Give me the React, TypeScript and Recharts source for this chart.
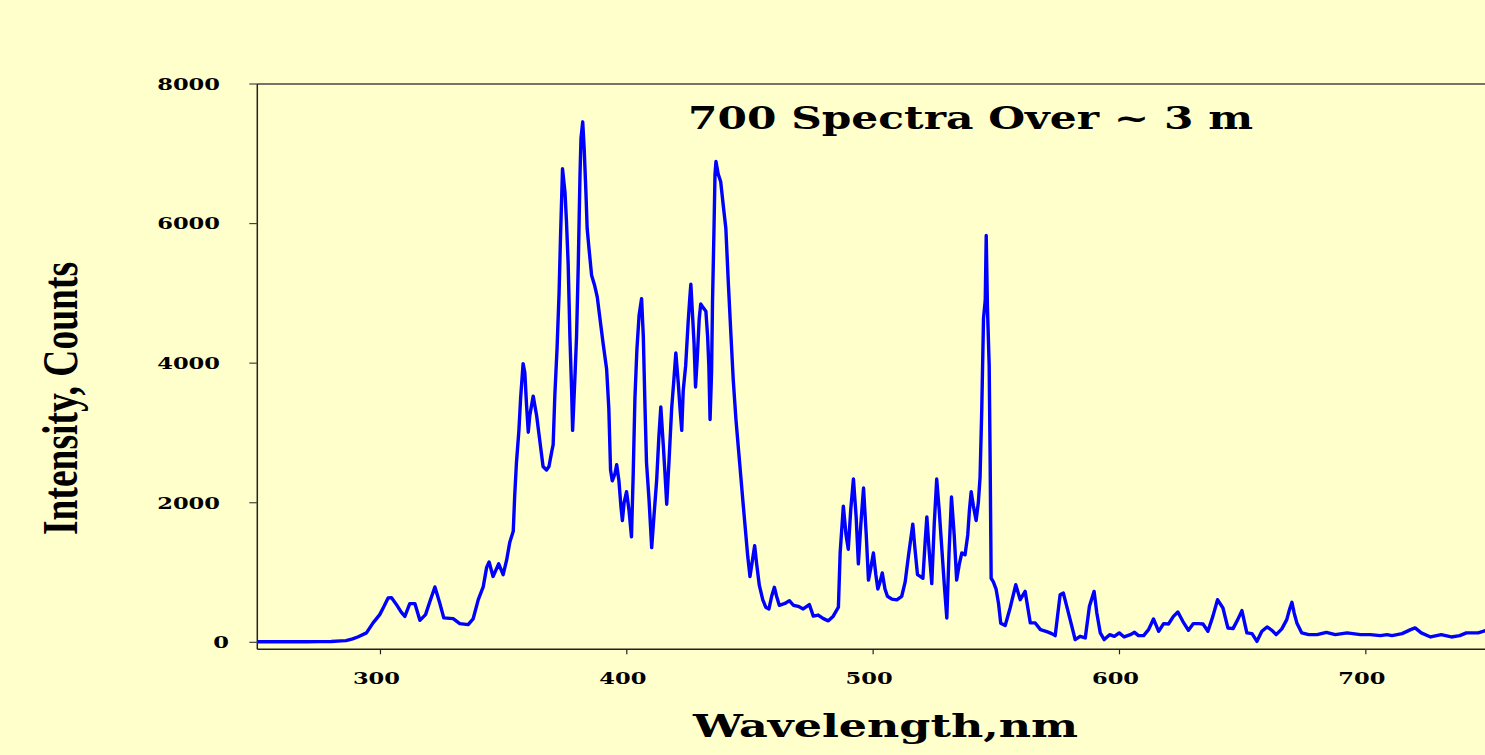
import React from "react";
import { LineChart, Line, XAxis, YAxis, ReferenceLine, Label } from "recharts";

const wavelengths = [
  250, 255, 260, 265, 270, 275, 280, 284, 286, 288.7, 291, 294.3, 297, 299.7, 301.5, 303.1, 304.5, 306.5, 308.5, 309.9,
  311.9, 314, 316, 318.3, 320.2, 322.1, 324, 325.7, 329.5, 332.2, 335.6, 337.6, 339.7, 341.7, 343.1, 344.1, 345.7, 348,
  349.8, 351.2, 352.5, 353.9, 354.5, 355.2, 356.2, 356.9, 357.9, 358.6, 359.3, 360, 360.6, 362, 363.4, 364.7, 366, 367.4,
  368.4, 369.5, 370.1, 370.8, 371.7, 372.5, 373.1, 373.9, 374.9, 375.5, 376.2, 376.9, 377.6, 378, 378.9, 379.6, 380.3,
  381, 381.4, 382.1, 382.7, 383.4, 383.9, 384.7, 385.7, 387, 388, 389.1, 390.4, 391.8, 392.7, 393.4, 394.1, 395.2, 395.9,
  396.8, 397.6, 398.2, 398.9, 399.9, 400.9, 401.9, 402.6, 403.3, 404.1, 405, 406, 406.7, 407.4, 408, 409, 410.1, 411,
  412.1, 413, 413.8, 414.8, 415.5, 416.2, 417.1, 418.2, 419.1, 419.9, 420.9, 421.6, 422.3, 422.9, 423.9, 424.9, 425.6,
  426, 426.6, 427.3, 427.9, 428.6, 429.4, 430, 431, 432.1, 432.8, 433.3, 433.8, 434.4, 434.8, 435.4, 435.8, 436.2, 437.1,
  438.1, 439.2, 440.2, 441.2, 442.3, 443.2, 444.3, 445.3, 446.3, 447.3, 448.2, 449.1, 450, 451, 451.9, 452.7, 453.8,
  455.2, 456.4, 457.7, 458.8, 459.9, 460.8, 461.9, 464.2, 466, 467.6, 469.6, 471.6, 474.1, 475.7, 477.7, 479.8, 481.8,
  483.8, 485.9, 486.6, 487.9, 489, 489.9, 490.9, 492, 493.1, 494, 495, 496.1, 497.2, 498.1, 499.1, 500.1, 501.1, 501.9,
  502.8, 503.7, 504.8, 505.8, 507.6, 509.6, 511.6, 513, 514.3, 516.1, 517, 518, 519.1, 520.2, 521.1, 521.8, 522.7, 523.8,
  524.8, 525.8, 526.8, 527.9, 528.9, 529.9, 530.8, 531.8, 532.9, 533.9, 535, 536, 537.3, 538.4, 539.1, 539.8, 540.7,
  541.8, 542.7, 543.4, 544.1, 544.8, 545.5, 545.9, 546.4, 547.1, 547.5, 547.9, 548.8, 549.9, 550.9, 551.8, 553.6, 555.6,
  557.9, 559.7, 561.7, 563.8, 565.8, 567.9, 570.5, 572.5, 573.9, 575.9, 577.2, 578.6, 580.3, 582, 584, 586.1, 587.8,
  589.7, 590.8, 592.2, 593.8, 596, 597.9, 599.9, 601.9, 604.4, 606.1, 607.7, 609.8, 611.8, 613.8, 615.9, 617.9, 619.9,
  621.9, 623.7, 625.7, 628, 630, 632.1, 633.9, 635.9, 637.9, 639.8, 642, 644, 646.1, 648, 649.7, 651.7, 653.8, 655.8,
  657.8, 659.9, 661.9, 663.6, 665.9, 667.9, 669, 670, 670.9, 672, 674, 676.8, 680.2, 684, 687.6, 692.4, 697.8, 701.8,
  705.9, 708.6, 710.6, 714.7, 718.2, 720, 722.5, 726.3, 730.6, 734.7, 738.1, 740.8, 745.6, 749, 750,
];

const intensities = [
  8, 10, 8, 10, 8, 10, 12, 20, 25, 50, 80, 135, 278, 397, 520, 636, 640, 540, 430, 372,
  554, 554, 315, 397, 600, 793, 570, 350, 340, 268, 253, 335, 611, 795, 1074, 1151, 944, 1125,
  969, 1177, 1435, 1591, 2108, 2573, 3037, 3504, 3994, 3865, 3400, 3011, 3246, 3528, 3246, 2883, 2520, 2469,
  2520, 2728, 2831, 3554, 4227, 5002, 5830, 6786, 6450, 6036, 5416, 4382, 3606, 3037, 3762, 4382, 5416,
  6708, 7225, 7458, 7070, 6450, 5933, 5623, 5261, 5105, 4950, 4640, 4279, 3916, 3348, 2469, 2314, 2417, 2546,
  2314, 1952, 1746, 2003, 2159, 1890, 1513, 2417, 3504, 4200, 4691, 4925, 4382, 3348, 2573, 2056, 1357, 1797,
  2314, 2934, 3374, 2831, 2417, 1978, 2573, 3348, 3762, 4148, 3710, 3348, 3037, 3606, 3968, 4588, 4950,
  5131, 4744, 4279, 3659, 4071, 4640, 4847, 4796, 4744, 4382, 3968, 3193, 3865, 4899, 5933, 6708, 6890, 6708,
  6604, 6244, 5933, 5157, 4382, 3762, 3193, 2779, 2366, 1952, 1591, 1229, 944, 1177, 1383, 1125, 815,
  609, 504, 478, 660, 789, 660, 531, 557, 597, 531, 516, 478, 541, 375, 391, 339, 308,
  375, 504, 1280, 1952, 1538, 1332, 1900, 2340, 1797, 1125, 1694, 2211, 1538, 892, 1074, 1280, 969, 763,
  866, 995, 763, 660, 619, 609, 660, 866, 1229, 1694, 1332, 969, 944, 918, 1435, 1797, 1332, 841,
  1694, 2340, 1900, 1332, 815, 349, 1280, 2082, 1538, 892, 1125, 1280, 1254, 1538, 1900, 2158, 1952,
  1746, 2003, 2366, 3348, 4640, 4899, 5830, 4796, 3968, 2573, 918, 866, 763, 557, 272, 240, 492,
  826, 611, 730, 278, 278, 182, 153, 125, 96, 683, 707, 516, 278, 39, 86, 63, 516,
  730, 421, 135, 39, 110, 86, 135, 77, 110, 143, 96, 96, 182, 335, 158, 268, 263,
  372, 435, 301, 172, 268, 268, 263, 158, 372, 611, 492, 206, 196, 325, 454, 135, 125, 14,
  158, 220, 172, 110, 192, 325, 468, 573, 421, 278, 135, 110, 110, 143, 110, 135, 110, 110,
  96, 110, 96, 125, 182, 206, 135, 77, 110, 77, 96, 135, 135, 172, 175,
];

const xTicks = [300, 400, 500, 600, 700];
const yTicks = [0, 2000, 4000, 6000, 8000];
const titleText = "700 Spectra Over ~ 3 m";
const xLabelText = "Wavelength,nm";
const yLabelText = "Intensity, Counts";

const data = wavelengths.map((w, i) => ({ wl: w, counts: intensities[i] }));

const BG = "#FFFFCC";
const WIDE_SERIF = "'DejaVu Serif', serif";
const NARROW_SERIF = "'Liberation Serif', 'Times New Roman', serif";
const DIGIT_W = 15.7;

function XTick(props: any) {
  const { x, y, payload } = props;
  const s = String(payload.value);
  return (
    <text
      x={x - 4}
      y={y + 27.7}
      textAnchor="middle"
      fontFamily={WIDE_SERIF}
      fontWeight="bold"
      fontSize={17}
      fill="#000"
      textLength={s.length * DIGIT_W}
      lengthAdjust="spacingAndGlyphs"
    >
      {s}
    </text>
  );
}

function YTick(props: any) {
  const { x, y, payload } = props;
  const s = String(payload.value);
  const shift = s.length === 1 ? 18.3 : 27.3;
  return (
    <text
      x={x - shift}
      y={y + 5.8}
      textAnchor="end"
      fontFamily={WIDE_SERIF}
      fontWeight="bold"
      fontSize={17}
      fill="#000"
      textLength={s.length * DIGIT_W}
      lengthAdjust="spacingAndGlyphs"
    >
      {s}
    </text>
  );
}

function TitleLabel() {
  return (
    <text
      x={688}
      y={129}
      fontFamily={WIDE_SERIF}
      fontWeight="bold"
      fontSize={31}
      fill="#000"
      textLength={565}
      lengthAdjust="spacingAndGlyphs"
    >
      {titleText}
    </text>
  );
}

function XAxisLabel() {
  return (
    <text
      x={693}
      y={736.7}
      fontFamily={WIDE_SERIF}
      fontWeight="bold"
      fontSize={32}
      fill="#000"
      textLength={385}
      lengthAdjust="spacingAndGlyphs"
    >
      {xLabelText}
    </text>
  );
}

function YAxisLabel() {
  const cx = 77;
  const cy = 398.5;
  return (
    <text
      x={cx}
      y={cy}
      transform={`rotate(-90, ${cx}, ${cy})`}
      textAnchor="middle"
      fontFamily={NARROW_SERIF}
      fontWeight="bold"
      fontSize={50}
      fill="#000"
      textLength={273}
      lengthAdjust="spacingAndGlyphs"
    >
      {yLabelText}
    </text>
  );
}

export default function App() {
  return (
    <div
      style={{
        position: "absolute",
        left: 0,
        top: 0,
        width: 1485,
        height: 755,
        overflow: "hidden",
        background: BG,
      }}
    >
      <LineChart
        width={1500}
        height={755}
        data={data}
        margin={{ top: 84, right: 11, bottom: 45.7, left: 0 }}
      >
        <XAxis
          type="number"
          dataKey="wl"
          domain={[250, 750]}
          ticks={xTicks}
          allowDataOverflow
          height={60}
          tickSize={5}
          interval={0}
          axisLine={{ stroke: "#222", strokeWidth: 1.5 }}
          tickLine={{ stroke: "#222", strokeWidth: 1.2 }}
          tick={<XTick />}
        >
          <Label content={<XAxisLabel />} />
        </XAxis>
        <YAxis
          type="number"
          domain={[-100, 8000]}
          ticks={yTicks}
          allowDataOverflow
          width={257.3}
          tickSize={8}
          interval={0}
          axisLine={{ stroke: "#222", strokeWidth: 1.5 }}
          tickLine={{ stroke: "#444", strokeWidth: 1.2 }}
          tick={<YTick />}
        >
          <Label content={<YAxisLabel />} />
        </YAxis>
        <ReferenceLine y={8000} stroke="#444" strokeWidth={1.5} label={<TitleLabel />} />
        <Line
          type="linear"
          dataKey="counts"
          stroke="#0000FF"
          strokeWidth={3.4}
          strokeLinejoin="round"
          dot={false}
          isAnimationActive={false}
        />
      </LineChart>
    </div>
  );
}
